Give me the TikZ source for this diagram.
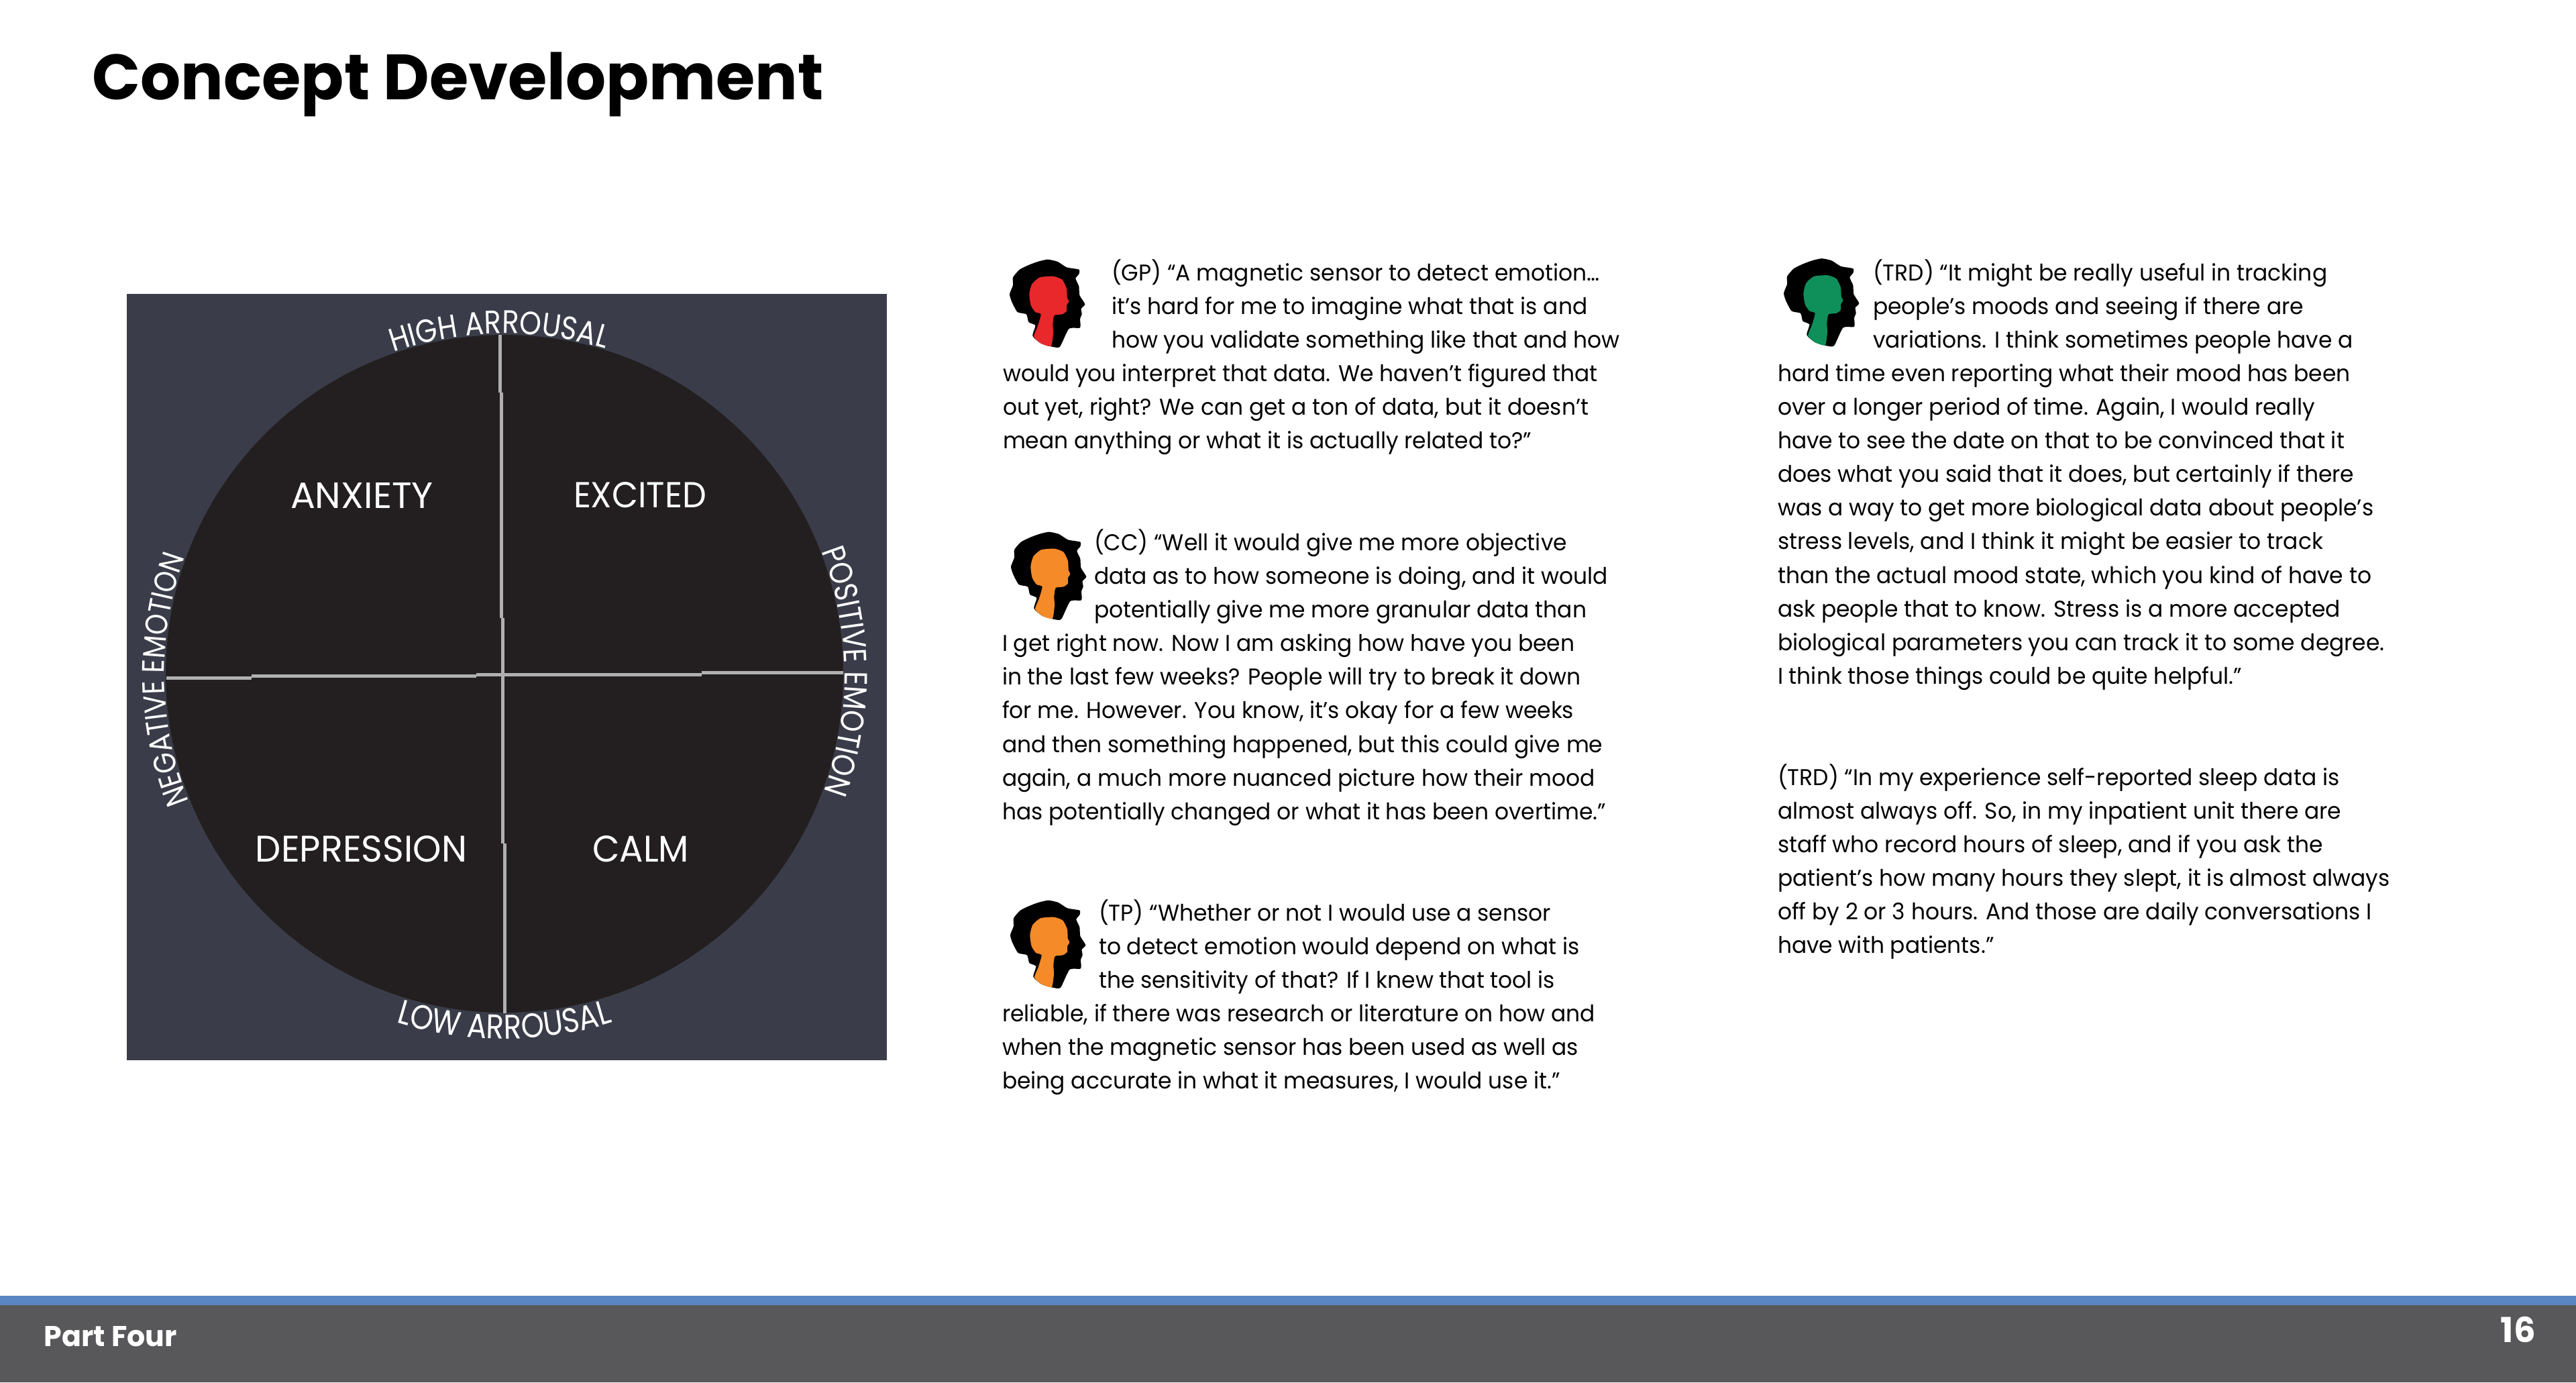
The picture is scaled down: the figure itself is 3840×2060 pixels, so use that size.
\documentclass[tikz,border=0pt]{standalone}
\usepackage{fontspec}
\usepackage{graphicx}
\usetikzlibrary{decorations.text}
\setmainfont{Poppins}
\newfontfamily\bodyfont[FakeStretch=0.968]{Poppins}
\newfontfamily\labelfont[FakeStretch=0.86]{Poppins}
\definecolor{panel}{HTML}{3A3D49}
\definecolor{disc}{HTML}{231F20}
\definecolor{axisgrey}{HTML}{B0B0B0}
\definecolor{barblue}{HTML}{5B86C4}
\definecolor{bargrey}{HTML}{58585A}
\definecolor{headred}{HTML}{E8282B}
\definecolor{headorange}{HTML}{F58A28}
\definecolor{headgreen}{HTML}{0F8F5A}
\newcommand{\fitbox}[3]{\resizebox{#1pt}{#2pt}{#3}}
\newcommand{\headpic}[2]{%
\begin{scope}[shift={(#1)},x=0.08333pt,y=-0.08333pt]
\fill[black,line join=round] plot[smooth cycle,tension=0.35] coordinates {(178,422)(190,375)(160,360)(150,325)(110,315)(85,270)(75,235)(90,195)(90,160)(120,125)(160,105)(200,90)(245,80)(290,90)(330,115)(385,125)(385,145)(370,165)(385,200)(388,240)(412,280)(395,300)(398,325)(390,345)(390,385)(340,390)(300,470)(265,470)(215,455)};
\fill[#2] plot[smooth cycle,tension=0.35] coordinates {(183,425)(200,380)(215,325)(190,315)(170,285)(163,235)(175,190)(210,160)(270,155)(310,170)(330,210)(332,250)(340,268)(330,285)(330,310)(310,325)(275,330)(268,370)(270,410)(260,468)(215,455)};
\end{scope}}
\tikzset{
 para/.style={anchor=north west,inner sep=0pt,outer sep=0pt,align=left,font=\fontsize{8.5pt}{12.54pt}\selectfont\bodyfont,text=black},
 emolabel/.style={anchor=center,inner sep=0pt,text=white},
 axisline/.style={draw=axisgrey,line width=1.25pt},
}
\begin{document}
\begin{tikzpicture}[x=0.25pt,y=-0.25pt]
\useasboundingbox (0,0) rectangle (3840,2060);
\fill[white] (0,0) rectangle (3840,2060);
% title
\node[anchor=north west,inner sep=0pt] (title) at (137,77) {\resizebox*{272.5pt}{24pt}{\bfseries Concept Development}};
% panel
\fill[panel] (189,438) rectangle (1322,1580);
\fill[disc] (752,1004) circle[radius=505];
\coordinate (v0) at (745,499); \coordinate (v1) at (745,585); \coordinate (v2) at (747,585); \coordinate (v3) at (747,921);
\coordinate (v4) at (749,921); \coordinate (v5) at (749,1257); \coordinate (v6) at (752,1257); \coordinate (v7) at (752,1510);
\draw[axisline] (v0) -- (v1); \draw[axisline] (v2) -- (v3); \draw[axisline] (v4) -- (v5); \draw[axisline] (v6) -- (v7);
\coordinate (h0) at (248,1010); \coordinate (h1) at (375,1010); \coordinate (h2) at (375,1007); \coordinate (h3) at (710,1007);
\coordinate (h4) at (710,1005); \coordinate (h5) at (1046,1005); \coordinate (h6) at (1046,1002); \coordinate (h7) at (1257,1002);
\draw[axisline] (h0) -- (h1); \draw[axisline] (h2) -- (h3); \draw[axisline] (h4) -- (h5); \draw[axisline] (h6) -- (h7);
\node[emolabel] (anx) at (539.5,738) {\fitbox{53.25}{9.5}{\labelfont ANXIETY}};
\node[emolabel] (exc) at (954,738) {\fitbox{49.5}{9.5}{\labelfont EXCITED}};
\node[emolabel] (dep) at (538.5,1265.5) {\fitbox{78.75}{9.75}{\labelfont DEPRESSION}};
\node[emolabel] (cal) at (955,1265.5) {\fitbox{36}{9.75}{\labelfont CALM}};
\path[decorate,decoration={text along path,text align=center,text color=white,text={|\fontsize{12.1pt}{12pt}\selectfont\labelfont|HIGH ARROUSAL}}] (752,1004) ++(-110.6:507) arc[start angle=-110.6,end angle=-71.2,radius=507];
\path[decorate,decoration={text along path,text align=center,text color=white,text={|\fontsize{12.7pt}{12pt}\selectfont\labelfont|LOW ARROUSAL}}] (752,1004) ++(110:544) arc[start angle=110,end angle=70,radius=544];
\path[decorate,decoration={text along path,text align=center,text color=white,text={|\fontsize{11.6pt}{12pt}\selectfont\labelfont|NEGATIVE EMOTION}}] (752,1004) ++(155:507) arc[start angle=155,end angle=203,radius=507];
\path[decorate,decoration={text along path,text align=center,text color=white,text={|\fontsize{12pt}{12pt}\selectfont\labelfont|POSITIVE EMOTION}}] (752,1004) ++(-23.8:507) arc[start angle=-23.8,end angle=22.9,radius=507];
% heads
\headpic{1480,360}{headred}
\headpic{1482,766}{headorange}
\headpic{1481,1315}{headorange}
\headpic{2634,358.5}{headgreen}
% text
\node[para] (gpa) at (1657,383) {\strut(GP) “A magnetic sensor to detect emotion…\\it’s hard for me to imagine what that is and\\how you validate something like that and how};
\node[para] (gpb) at (1495,533) {\strut would you interpret that data. We haven’t figured that\\out yet, right? We can get a ton of data, but it doesn’t\\mean anything or what it is actually related to?”};
\node[para] (cca) at (1631,785) {\strut(CC) “Well it would give me more objective\\data as to how someone is doing, and it would\\potentially give me more granular data than};
\node[para] (ccb) at (1494,935.5) {\strut I get right now. Now I am asking how have you been\\in the last few weeks? People will try to break it down\\for me. However. You know, it’s okay for a few weeks\\and then something happened, but this could give me\\again, a much more nuanced picture how their mood\\has potentially changed or what it has been overtime.”};
\node[para] (tpa) at (1638,1337) {\strut(TP) “Whether or not I would use a sensor\\to detect emotion would depend on what is\\the sensitivity of that? If I knew that tool is};
\node[para] (tpb) at (1494,1487.5) {\strut reliable, if there was research or literature on how and\\when the magnetic sensor has been used as well as\\being accurate in what it measures, I would use it.”};
\node[para] (tra) at (2792,383) {\strut(TRD) “It might be really useful in tracking\\people’s moods and seeing if there are\\variations. I think sometimes people have a};
\node[para] (trb) at (2650,533) {\strut hard time even reporting what their mood has been\\over a longer period of time. Again, I would really\\have to see the date on that to be convinced that it\\does what you said that it does, but certainly if there\\was a way to get more biological data about people’s\\stress levels, and I think it might be easier to track\\than the actual mood state, which you kind of have to\\ask people that to know. Stress is a more accepted\\biological parameters you can track it to some degree.\\I think those things could be quite helpful.”};
\node[para] (trc) at (2650,1135) {\strut(TRD) “In my experience self-reported sleep data is\\almost always off. So, in my inpatient unit there are\\staff who record hours of sleep, and if you ask the\\patient’s how many hours they slept, it is almost always\\off by 2 or 3 hours. And those are daily conversations I\\have with patients.”};
% footer
\fill[barblue] (0,1931) rectangle (3840,1945);
\fill[bargrey] (0,1945) rectangle (3840,2060);
\node[anchor=base west,inner sep=0pt,text=white] (part) at (65,2006) {\resizebox{49.5pt}{!}{\bfseries Part Four}};
\node[anchor=base west,inner sep=0pt,text=white] (num) at (3727,2000) {\resizebox{13pt}{!}{\bfseries 16}};
\end{tikzpicture}
\end{document}
